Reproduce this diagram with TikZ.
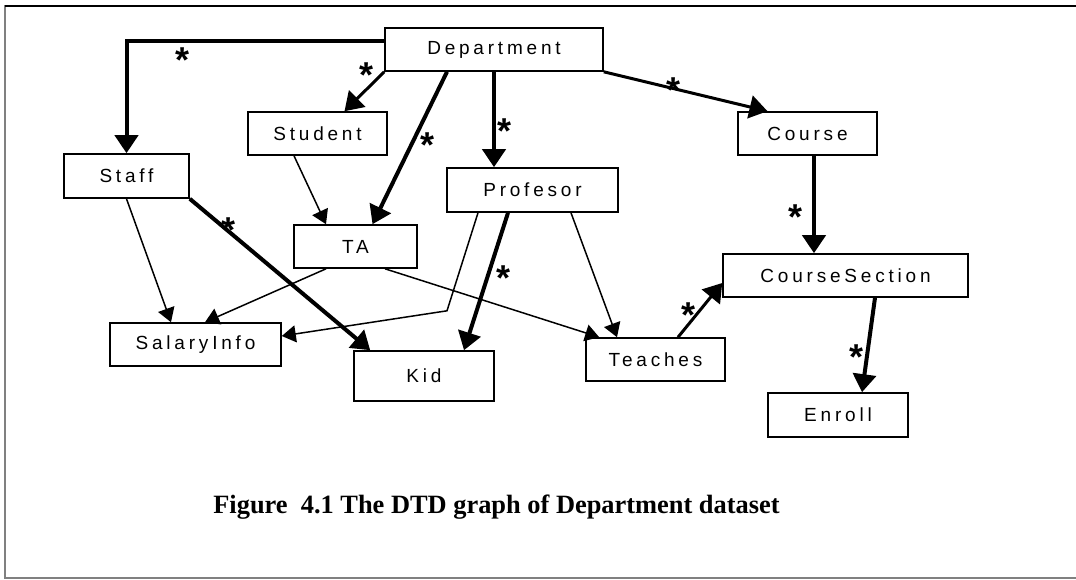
\documentclass[tikz,border=0pt]{standalone}
\usepackage{fontspec}
\setmainfont{Liberation Serif}
\newfontfamily\boxfont[LetterSpace=20]{Liberation Sans}
\newfontfamily\starfont{Liberation Sans}
\usetikzlibrary{arrows.meta}
\tikzstyle{entity} = [draw=black, line width=1.6pt, rectangle,
                      minimum height=43pt, inner sep=0pt,
                      font=\boxfont\fontsize{19}{22}\selectfont]
\tikzstyle{link} = [line width=1.5pt, -{Triangle[length=14pt,width=17pt]}]
\tikzstyle{multi} = [line width=4pt, -{Triangle[length=18pt,width=23pt]}]
\tikzstyle{multim} = [multi, line width=3pt]
\tikzstyle{mul} = [font=\starfont\bfseries\fontsize{36}{36}\selectfont, inner sep=0pt]
\newcommand{\many}{\raisebox{-.58em}[0pt][0pt]{*}}

\begin{document}
\begin{tikzpicture}[x=1pt,y=-1pt]
  \useasboundingbox (0,0) rectangle (1076,579);
  \clip (0,0) rectangle (1076,579);
  % frame
  \draw[gray, line width=1.3pt] (5,6) rectangle (1090,578);
  \draw[line width=2pt] (5,6) -- (1090,6);

  % elements
  \node[entity, minimum width=218pt] (dept) at (494,49.5) {Department};
  \node[entity, minimum width=139pt] (stud) at (317.5,133.5) {Student};
  \node[entity, minimum width=125pt, minimum height=44pt] (staff) at (126.5,176) {Staff};
  \node[entity, minimum width=171pt, minimum height=44pt] (prof) at (532.5,190) {Profesor};
  \node[entity, minimum width=139pt] (course) at (807.5,133.5) {Course};
  \node[entity, minimum width=123pt] (ta) at (355.5,246.5) {TA};
  \node[entity, minimum width=245pt] (cs) at (845.5,275.5) {CourseSection};
  \node[entity, minimum width=171pt] (sal) at (195.5,344.5) {SalaryInfo};
  \node[entity, minimum width=140pt, minimum height=50pt] (kid) at (424,376) {Kid};
  \node[entity, minimum width=139pt] (teach) at (655.5,359.5) {Teaches};
  \node[entity, minimum width=140pt, minimum height=44pt] (enroll) at (838,415) {Enroll};

  % thick edges (*)
  \draw[multi] ([yshift=8.5pt]dept.west) -| (staff.north);
  \node[mul] (s1) at (183,52) {\many};
  \draw[multim] (dept.south west) -- ([xshift=27pt]stud.north);
  \node[mul] (s2) at (367,67) {\many};
  \draw[multi] ([xshift=-47pt]dept.south) -- ([xshift=17pt]ta.north);
  \node[mul] (s3) at (427,137) {\many};
  \draw[multi] (dept.south) -- (dept.south |- prof.north);
  \node[mul] (s4) at (504,123) {\many};
  \draw[multim] (dept.south east) -- ([xshift=-40pt]course.north);
  \node[mul] (s5) at (673,82) {\many};
  \draw[multi] ([xshift=6.5pt]course.south) -- ([xshift=-31.5pt]cs.north);
  \node[mul] (s6) at (795,209) {\many};
  \draw[multi] (staff.south east) -- ([xshift=17pt]kid.north west);
  \node[mul] (s7) at (229,222) {\many};
  \draw[multi] ([xshift=-24.5pt]prof.south) -- ([xshift=40pt]kid.north);
  \node[mul] (s8) at (503,270) {\many};
  \draw[multim] ([xshift=22.5pt]teach.north) -- ([yshift=-7.5pt]cs.west);
  \node[mul] (s9) at (688,307) {\many};
  \draw[multi] ([xshift=29.5pt]cs.south) -- ([xshift=24pt]enroll.north);
  \node[mul] (s10) at (856,349) {\many};

  % thin edges
  \draw[link] ([xshift=-23.5pt]stud.south) -- ([xshift=-29.5pt]ta.north);
  \draw[link] (staff.south) -- ([xshift=-24.5pt]sal.north);
  \draw[link] ([xshift=-29.5pt]ta.south) -- ([xshift=9.5pt]sal.north);
  \draw[link] ([xshift=29.5pt]ta.south) -- ([xshift=14pt]teach.north west);
  \draw[link] ([xshift=-54.5pt]prof.south) -- ++(-31,98) -- ([yshift=8.5pt]sal.east);
  \draw[link] ([xshift=38.5pt]prof.south) -- ([xshift=-38.5pt]teach.north);

  \node[font=\bfseries\fontsize{26.4}{30}\selectfont, anchor=base] (cap) at (496.5,513)
    {Figure\ \ 4.1 The DTD graph of Department dataset};
\end{tikzpicture}
\end{document}
